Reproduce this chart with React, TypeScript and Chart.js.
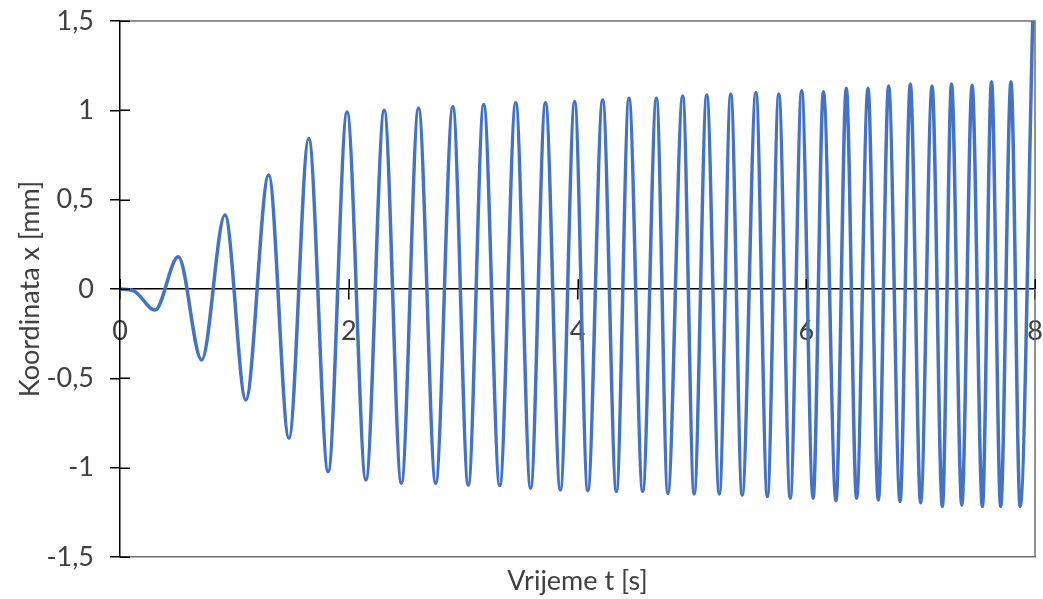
import React, { useEffect, useRef } from "react";
import { Chart, registerables } from "chart.js";

Chart.register(...registerables);

// Extrema of the displacement curve (time in s, x in mm)
const TIMES = [
  0, 0.12, 0.306, 0.51, 0.714, 0.918, 1.1, 1.3, 1.477, 1.65, 1.82, 1.985,
  2.15, 2.31, 2.46, 2.61, 2.76, 2.91, 3.045, 3.18, 3.32, 3.46, 3.59, 3.72,
  3.85, 3.975, 4.09, 4.22, 4.34, 4.45, 4.57, 4.69, 4.79, 4.92, 5.02, 5.13,
  5.24, 5.34, 5.44, 5.56, 5.66, 5.76, 5.86, 5.96, 6.06, 6.15, 6.26, 6.35,
  6.44, 6.54, 6.63, 6.72, 6.82, 6.91, 7.0, 7.1, 7.19, 7.27, 7.36, 7.45,
  7.54, 7.62, 7.7, 7.79, 7.87, 7.98,
];
const VALUES = [
  0, -0.01, -0.118, 0.18, -0.397, 0.414, -0.621, 0.638, -0.836, 0.843, -1.022, 0.99,
  -1.069, 1.0, -1.087, 1.011, -1.087, 1.02, -1.097, 1.033, -1.1, 1.043, -1.115, 1.043,
  -1.125, 1.048, -1.129, 1.058, -1.134, 1.067, -1.134, 1.067, -1.143, 1.08, -1.147, 1.086,
  -1.147, 1.091, -1.153, 1.1, -1.162, 1.091, -1.171, 1.11, -1.171, 1.104, -1.185, 1.123,
  -1.171, 1.123, -1.181, 1.136, -1.19, 1.147, -1.196, 1.136, -1.218, 1.147, -1.209, 1.14,
  -1.218, 1.16, -1.218, 1.16, -1.218, 1.5,
];

const X_MIN = 0;
const X_MAX = 8;
const X_STEP = 2;
const Y_MIN = -1.5;
const Y_MAX = 1.5;
const Y_STEP = 0.5;
const X_TITLE = "Vrijeme t [s]";
const Y_TITLE = "Koordinata x [mm]";

const LINE_COLOR = "#4472C4";
const TEXT_COLOR = "#404040";
const FRAME_COLOR = "#6e6e6e";
const FONT = { family: "Lato", size: 27 };
const TICK = 10;

const fmt = (v: number) => String(Math.round(v * 100) / 100).replace(".", ",");

const noPad = (s: any) => {
  s.paddingTop = 0;
  s.paddingBottom = 0;
  s.paddingLeft = 0;
  s.paddingRight = 0;
};

const crossTicks = {
  id: "crossTicks",
  afterDraw(chart: any) {
    const { ctx, chartArea, scales } = chart;
    const ys = scales.y;
    const xs = scales.x2;
    ctx.save();
    ctx.strokeStyle = FRAME_COLOR;
    ctx.lineWidth = 1.5;
    ctx.beginPath();
    ctx.moveTo(chartArea.left, chartArea.top);
    ctx.lineTo(chartArea.right, chartArea.top);
    ctx.lineTo(chartArea.right, chartArea.bottom);
    ctx.stroke();
    ctx.strokeStyle = "#000";
    ctx.lineWidth = 1.5;
    ctx.beginPath();
    ys.ticks.forEach((t: any) => {
      const py = Math.round(ys.getPixelForValue(t.value)) + 0.25;
      ctx.moveTo(chartArea.left, py);
      ctx.lineTo(chartArea.left + TICK, py);
    });
    const zy = ys.getPixelForValue(0);
    xs.ticks.forEach((t: any) => {
      const px = Math.round(xs.getPixelForValue(t.value)) + 0.25;
      ctx.moveTo(px, zy);
      ctx.lineTo(px, zy - TICK);
    });
    ctx.stroke();
    ctx.restore();
  },
};

export default function App() {
  const ref = useRef<HTMLCanvasElement | null>(null);

  useEffect(() => {
    if (!ref.current) return;
    const points = TIMES.map((t, i) => ({ x: t, y: VALUES[i] }));
    const chart = new Chart(ref.current, {
      type: "line",
      data: {
        datasets: [
          {
            data: points,
            xAxisID: "x",
            yAxisID: "y",
            borderColor: LINE_COLOR,
            borderWidth: 3.5,
            pointRadius: 0,
            cubicInterpolationMode: "monotone",
            fill: false,
          },
        ],
      },
      options: {
        animation: false,
        responsive: false,
        layout: { padding: { top: 21, right: 8, left: 0, bottom: 0 } },
        plugins: { legend: { display: false }, tooltip: { enabled: false } },
        scales: {
          x: {
            type: "linear",
            position: "bottom",
            min: X_MIN,
            max: X_MAX,
            ticks: { display: false },
            grid: { display: false },
            border: { display: true, color: FRAME_COLOR, width: 1.5 },
            title: {
              display: true,
              text: X_TITLE,
              color: TEXT_COLOR,
              font: FONT,
              padding: { top: 0, bottom: 2 },
            },
            afterFit: (s: any) => {
              s.height = 42;
              noPad(s);
            },
          },
          x2: {
            type: "linear",
            axis: "x",
            position: { y: 0 },
            min: X_MIN,
            max: X_MAX,
            ticks: { stepSize: X_STEP, color: TEXT_COLOR, font: FONT, padding: 16, maxRotation: 0 },
            grid: { drawOnChartArea: false, drawTicks: true, tickLength: TICK, color: "#000", lineWidth: 1.5 },
            border: { display: true, color: "#000", width: 1.5 },
            afterFit: (s: any) => {
              noPad(s);
            },
          },
          y: {
            type: "linear",
            position: "left",
            min: Y_MIN,
            max: Y_MAX,
            ticks: {
              stepSize: Y_STEP,
              color: TEXT_COLOR,
              font: FONT,
              padding: 16,
              callback: (v: any) => fmt(Number(v)),
            },
            grid: { drawOnChartArea: false, drawTicks: true, tickLength: TICK, color: "#000", lineWidth: 1.5 },
            border: { display: true, color: "#000", width: 1.5 },
            title: {
              display: true,
              text: Y_TITLE,
              color: TEXT_COLOR,
              font: FONT,
              padding: { top: 14, bottom: 0 },
            },
            afterFit: (s: any) => {
              s.width = 120;
              noPad(s);
            },
          },
        },
      },
      plugins: [crossTicks],
    } as any);
    return () => chart.destroy();
  }, []);

  return (
    <div style={{ position: "fixed", left: 0, top: 0, width: 1043, height: 599, background: "#fff" }}>
      <canvas ref={ref} width={1043} height={599} style={{ display: "block" }} />
    </div>
  );
}
